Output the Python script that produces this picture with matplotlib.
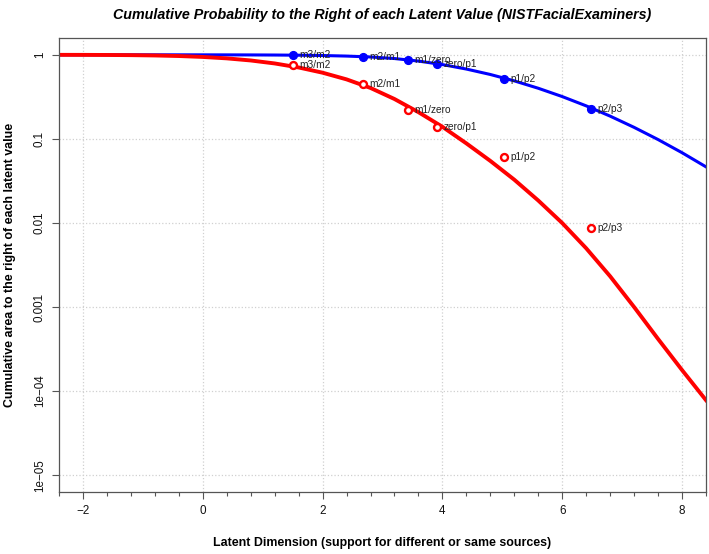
import numpy as np
import matplotlib
matplotlib.use("Agg")
import matplotlib.pyplot as plt

# valores
x_curva = [-2.4, -2.0, -1.6, -1.2, -0.8, -0.4, 0.0, 0.4, 0.8, 1.2, 1.6, 2.0, 2.4, 2.8,
           3.2, 3.6, 4.0, 4.4, 4.8, 5.2, 5.6, 6.0, 6.4, 6.8, 7.2, 7.6, 8.0, 8.4]
curva_azul = [0.99999, 0.99998, 0.99995, 0.99990, 0.99985, 0.9997, 0.9993, 0.9985, 0.9970,
              0.9943, 0.9892, 0.9806, 0.966, 0.9425, 0.903, 0.8424, 0.7655, 0.6771, 0.5835,
              0.4898, 0.4002, 0.3187, 0.2471, 0.1865, 0.1371, 0.0982, 0.0685, 0.0465]
curva_roja = [0.99916, 0.99803, 0.99564, 0.99096, 0.98231, 0.96741, 0.94342, 0.90741,
              0.85657, 0.78960, 0.70715, 0.61256, 0.51037, 0.4035, 0.298, 0.2078, 0.1393,
              0.0884, 0.0547, 0.0327, 0.0185, 0.00998, 0.0050, 0.00232, 0.00100, 0.000417,
              0.000178, 0.000078]

umbrales = ["m3/m2", "m2/m1", "m1/zero", "zero/p1", "p1/p2", "p2/p3"]
x_umbral = [1.51, 2.68, 3.42, 3.91, 5.03, 6.48]
puntos_azul = [0.990, 0.939, 0.872, 0.781, 0.518, 0.2295]
puntos_rojo = [0.766, 0.448, 0.2197, 0.1378, 0.0615, 0.00879]

y_ticks = [1, 0.1, 0.01, 0.001, 1e-4, 1e-5]
y_etiquetas = ["1", "0.1", "0.01", "0.001", "1e\u221204", "1e\u221205"]
x_ticks = [-2, 0, 2, 4, 6, 8]

plt.rcParams['font.family'] = ['Liberation Sans', 'DejaVu Sans']

W, H = 709, 554
fig = plt.figure(figsize=(W / 100, H / 100), dpi=100)
ax = fig.add_axes([59 / W, 1 - 492 / H, (706 - 59) / W, (492 - 38) / H])

ax.plot(x_curva, curva_azul, color='#0000ff', lw=2.2, zorder=2)
ax.plot(x_curva, curva_roja, color='#ff0000', lw=2.8, zorder=2)

ax.plot(x_umbral, puntos_azul, 'o', color='#0000ff', ms=5.6, zorder=4)
ax.plot(x_umbral, puntos_rojo, 'o', mfc='white', mec='#ff0000', mew=1.7, ms=5.0, zorder=4)

for lab, x, yb, yr in zip(umbrales, x_umbral, puntos_azul, puntos_rojo):
    ax.annotate(lab, (x, yb), xytext=(4.6, 0), textcoords='offset points',
                va='center', ha='left', fontsize=7.3, color='#222222', zorder=5)
    ax.annotate(lab, (x, yr), xytext=(4.6, 0), textcoords='offset points',
                va='center', ha='left', fontsize=7.3, color='#222222', zorder=5)

ax.set_yscale('log')
ax.set_xlim(-2.4, 8.4)
ax.set_ylim(10 ** -5.2, 10 ** 0.2)

ax.set_yticks(y_ticks)
ax.set_yticklabels(y_etiquetas)
ax.yaxis.set_minor_locator(matplotlib.ticker.NullLocator())
ax.set_xticks(x_ticks)
ax.set_xticklabels([str(v).replace('-', '\u2212') for v in x_ticks])
ax.set_xticks(np.arange(-2.4, 8.41, 0.4), minor=True)

for tl in ax.get_yticklabels():
    tl.set_rotation(90)
    tl.set_va('center')

ax.tick_params(axis='both', which='major', direction='out', length=5, width=0.8,
               color='#555555', labelsize=8.4, pad=4.5, labelcolor='#111111')
ax.tick_params(axis='x', which='minor', direction='out', length=3, width=0.8,
               color='#555555')

# rejilla punteada debajo de las curvas
ax.set_axisbelow(True)
ax.grid(True, which='major', color='#d0d0d0', linestyle=':', linewidth=0.9)

for s in ax.spines.values():
    s.set_color('#555555')
    s.set_linewidth(0.9)

fig.text(382.5 / W, 1 - 18.5 / H,
         'Cumulative Probability to the Right of each Latent Value (NISTFacialExaminers)',
         ha='center', va='baseline', fontsize=10.3, fontweight='bold', style='italic')
fig.text(382.5 / W, 1 - 543 / H, 'Latent Dimension (support for different or same sources)',
         ha='center', va='center', fontsize=8.9, fontweight='bold')
fig.text(10 / W, 1 - 265 / H, 'Cumulative area to the right of each latent value',
         ha='center', va='center', rotation=90, fontsize=8.9, fontweight='bold')

fig.savefig('out.png', dpi=100)
